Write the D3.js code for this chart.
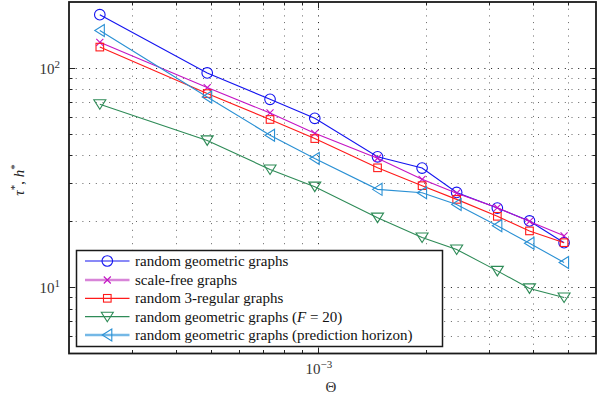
<!DOCTYPE html>
<html><head><meta charset="utf-8">
<script src="https://cdn.jsdelivr.net/npm/d3@7"></script>
<style>body{margin:0;background:#fff}svg{display:block}
text{font-family:"Liberation Serif","Tinos","Times New Roman","DejaVu Serif",serif;}</style>
</head><body>
<script>
const thetas = [0.000244, 0.000488, 0.000732, 0.000977, 0.001465, 0.001953, 0.002441, 0.003174, 0.003906, 0.004883];
const rgg      = [175, 95, 72, 59, 39.4, 35.0, 27.1, 23.0, 20.1, 16.0];
const scaleFree= [131, 81.5, 62.4, 50.4, 38.8, 31.1, 26.9, 23.1, 20.0, 17.2];
const regular3 = [124.6, 76.5, 58.3, 47.7, 35.1, 29.1, 25.2, 21.1, 18.1, 16.0];
const rggF20   = [68.4, 46.8, 34.5, 28.8, 20.8, 16.9, 14.9, 11.9, 9.9, 9.0];
const rggPred  = [148.3, 73.8, 49.4, 38.7, 28.0, 27.0, 23.9, 19.1, 15.9, 13.0];
const seriesNames = ["random geometric graphs","scale-free graphs","random 3-regular graphs","random geometric graphs (F = 20)","random geometric graphs (prediction horizon)"];
const xGridVals = [3e-4,4e-4,5e-4,6e-4,7e-4,8e-4,9e-4,1e-3,2e-3,3e-3,4e-3,5e-3];
const yGridVals = [6,7,8,9,10,20,30,40,50,60,70,80,90,100];
const xMajor = [1e-3];
const yMajor = [10,100];

const W=603,H=398;
const L=69,R=596,T=2,B=353.5;
const svg=d3.select("body").append("svg").attr("width",W).attr("height",H);
const x=d3.scaleLog().domain([2e-4,6e-3]).range([L,R]);
const y=d3.scaleLog().domain([5,200]).range([B,T]);

// grid
const g=svg.append("g");
xGridVals.forEach(v=>{
  const maj=xMajor.includes(v);
  g.append("line").attr("x1",Math.round(x(v))+0.5).attr("x2",Math.round(x(v))+0.5).attr("y1",T).attr("y2",B)
   .attr("stroke",maj?"#111":"#666").attr("stroke-width",1).attr("stroke-dasharray","1,5.7");
});
yGridVals.forEach(v=>{
  const maj=yMajor.includes(v);
  g.append("line").attr("y1",Math.round(y(v))+0.5).attr("y2",Math.round(y(v))+0.5).attr("x1",L).attr("x2",R)
   .attr("stroke",maj?"#111":"#666").attr("stroke-width",1).attr("stroke-dasharray","1,5.7");
});

// ticks
const tk=svg.append("g").attr("stroke","#222").attr("stroke-width",1);
xGridVals.forEach(v=>{
  const len=xMajor.includes(v)?6:3.5, px=Math.round(x(v))+0.5;
  tk.append("line").attr("x1",px).attr("x2",px).attr("y1",B).attr("y2",B-len);
  tk.append("line").attr("x1",px).attr("x2",px).attr("y1",T).attr("y2",T+len);
});
yGridVals.forEach(v=>{
  const len=yMajor.includes(v)?6:3.5, py=Math.round(y(v))+0.5;
  tk.append("line").attr("y1",py).attr("y2",py).attr("x1",L).attr("x2",L+len);
  tk.append("line").attr("y1",py).attr("y2",py).attr("x1",R).attr("x2",R-len);
});

// series
const series=[
  {vals:rgg,color:"#1414f0",marker:"circle",legColor:"#1414f0",legW:1.2},
  {vals:scaleFree,color:"#c414c4",marker:"x",legColor:"#d884d8",legW:2.6},
  {vals:regular3,color:"#ff1a1a",marker:"square",legColor:"#ff1a1a",legW:1.2},
  {vals:rggF20,color:"#2e8b57",marker:"tridown",legColor:"#2e8b57",legW:1.2},
  {vals:rggPred,color:"#2a90d4",marker:"trileft",legColor:"#74b8e6",legW:2.6}
];
function drawMarker(sel,type,cx,cy,color){
  let m;
  if(type==="circle") m=sel.append("circle").attr("cx",cx).attr("cy",cy).attr("r",5.3);
  else if(type==="square") m=sel.append("rect").attr("x",cx-3.8).attr("y",cy-3.8).attr("width",7.6).attr("height",7.6);
  else if(type==="x") m=sel.append("path").attr("d",`M${cx-3.5},${cy-3.5}L${cx+3.5},${cy+3.5}M${cx-3.5},${cy+3.5}L${cx+3.5},${cy-3.5}`);
  else if(type==="tridown") m=sel.append("path").attr("d",`M${cx-6},${cy-4.5}L${cx+6},${cy-4.5}L${cx},${cy+5}Z`);
  else if(type==="trileft") m=sel.append("path").attr("d",`M${cx-5},${cy}L${cx+4.5},${cy-6}L${cx+4.5},${cy+6}Z`);
  m.attr("fill","none").attr("stroke",color).attr("stroke-width",1.1);
}
const line=d3.line().x(d=>x(d[0])).y(d=>y(d[1]));
series.forEach(s=>{
  const pts=thetas.map((t,i)=>[t,s.vals[i]]);
  svg.append("path").attr("d",line(pts)).attr("fill","none").attr("stroke",s.color).attr("stroke-width",1.1);
  const mg=svg.append("g");
  pts.forEach(p=>drawMarker(mg,s.marker,x(p[0]),y(p[1]),s.color));
});

// frame
svg.append("rect").attr("x",L).attr("y",T).attr("width",R-L).attr("height",B-T)
  .attr("fill","none").attr("stroke","#1a1a1a").attr("stroke-width",1.8);

// tick labels
function powLabel(px,py,exp,anchor){
  const t=svg.append("text").attr("x",px).attr("y",py).attr("font-size",15)
    .attr("fill","#333").attr("text-anchor",anchor);
  t.append("tspan").text("10");
  t.append("tspan").attr("dy",-6).attr("font-size",11).text(exp);
}
powLabel(60,y(100)+5.5,"2","end");
powLabel(60,y(10)+5.5,"1","end");
powLabel(x(1e-3)+0.5,374,"\u22123","middle");
svg.append("text").attr("x",331).attr("y",391.5).attr("font-size",15)
  .attr("fill","#333").attr("text-anchor","middle").text("\u0398");

// y label
const yl=svg.append("text").attr("transform","translate(24,180) rotate(-90)").attr("text-anchor","middle")
  .attr("font-size",15).attr("fill","#222");
yl.append("tspan").attr("font-style","italic").text("\u03C4");
yl.append("tspan").attr("dy",-6).attr("font-size",11).text("*");
yl.append("tspan").attr("dy",6).text(", ");
yl.append("tspan").attr("font-style","italic").text("h");
yl.append("tspan").attr("dy",-6).attr("font-size",11).text("*");

// legend
const lg=svg.append("g");
lg.append("rect").attr("x",76.5).attr("y",250.5).attr("width",366).attr("height",96)
  .attr("fill","#fff").attr("stroke","#1a1a1a").attr("stroke-width",1.5);
const legY=[261,280,298.3,316.7,335];
series.forEach((s,i)=>{
  const ly=legY[i];
  lg.append("line").attr("x1",85).attr("x2",129.5).attr("y1",ly).attr("y2",ly).attr("stroke",s.legColor).attr("stroke-width",s.legW);
  drawMarker(lg,s.marker,107.3,ly,s.color);
  const t=lg.append("text").attr("x",135).attr("y",ly+5).attr("font-size",15).attr("fill","#111");
  if(i===3){
    t.append("tspan").text("random geometric graphs (");
    t.append("tspan").attr("font-style","italic").text("F");
    t.append("tspan").text(" = 20)");
  } else t.text(seriesNames[i]);
});
</script>
</body></html>
